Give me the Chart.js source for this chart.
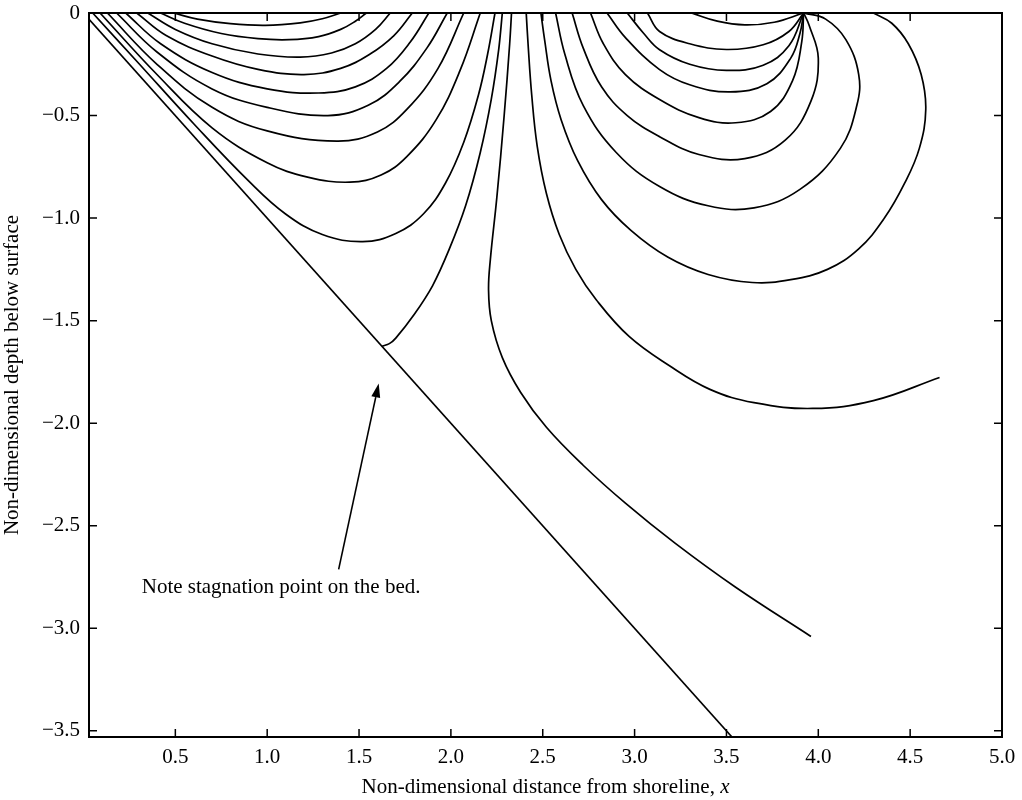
<!DOCTYPE html>
<html>
<head>
<meta charset="utf-8">
<script src="https://cdn.jsdelivr.net/npm/chart.js@4.4.0/dist/chart.umd.min.js"></script>
<style>
  html, body { margin: 0; background: #fff; }
  #wrap { width: 1022px; height: 800px; }
</style>
</head>
<body>
<div id="wrap"><canvas id="flow" width="1022" height="800"></canvas></div>
<script>
// tick values of the axes
const xTickValues = [0.5, 1.0, 1.5, 2.0, 2.5, 3.0, 3.5, 4.0, 4.5, 5.0];
const yTickValues = [0, -0.5, -1.0, -1.5, -2.0, -2.5, -3.0, -3.5];

// sloping bed
const bedLine = [[0, 0], [3.53, -3.53]];

// streamlines leaving the surface near the shore and returning near x ~ 1.4-2.25
const shoreLoops = [
  [[0.49, 0], [0.62, -0.03], [0.8, -0.052], [0.99, -0.06], [1.18, -0.048], [1.30, -0.028], [1.40, 0]],
  [[0.42, 0], [0.55, -0.05], [0.75, -0.1], [0.95, -0.125], [1.12, -0.13], [1.28, -0.115], [1.40, -0.08], [1.48, -0.04], [1.54, 0]],
  [[0.35, 0], [0.5, -0.08], [0.7, -0.15], [0.95, -0.2], [1.18, -0.215], [1.35, -0.195], [1.48, -0.15], [1.59, -0.08], [1.67, 0]],
  [[0.29, 0], [0.45, -0.11], [0.7, -0.21], [0.95, -0.275], [1.2, -0.3], [1.4, -0.27], [1.56, -0.2], [1.69, -0.11], [1.79, 0]],
  [[0.23, 0], [0.42, -0.15], [0.7, -0.29], [1.0, -0.37], [1.28, -0.39], [1.48, -0.36], [1.65, -0.27], [1.78, -0.14], [1.88, 0]],
  [[0.18, 0], [0.4, -0.19], [0.7, -0.37], [1.0, -0.46], [1.33, -0.5], [1.55, -0.45], [1.72, -0.335], [1.87, -0.17], [1.98, 0]],
  [[0.13, 0], [0.4, -0.25], [0.7, -0.46], [1.0, -0.575], [1.38, -0.625], [1.6, -0.58], [1.76, -0.47], [1.93, -0.27], [2.07, 0]],
  [[0.09, 0], [0.4, -0.3], [0.7, -0.56], [1.0, -0.73], [1.22, -0.8], [1.45, -0.825], [1.62, -0.79], [1.76, -0.7], [1.92, -0.52], [2.05, -0.28], [2.16, 0]],
  [[0.05, 0], [0.3, -0.245], [0.6, -0.54], [0.9, -0.82], [1.1, -0.98], [1.3, -1.08], [1.52, -1.115], [1.7, -1.075], [1.85, -0.98], [1.97, -0.83], [2.07, -0.63], [2.15, -0.4], [2.2, -0.2], [2.24, 0]],
];

// streamline leaving the bed at the stagnation point
const stagnationLine = [[1.625, -1.625], [1.665, -1.612], [1.7, -1.585], [1.8, -1.47], [1.9, -1.33], [1.99, -1.154], [2.08, -0.94], [2.16, -0.68], [2.22, -0.42], [2.26, -0.18], [2.28, 0]];

// streamline running from the surface down to deep water
const dividingLine = [[2.33, 0], [2.32, -0.15], [2.29, -0.5], [2.25, -0.9], [2.215, -1.2], [2.205, -1.35], [2.22, -1.5], [2.28, -1.68], [2.38, -1.85], [2.52, -2.02], [2.72, -2.205], [2.95, -2.39], [3.22, -2.585], [3.55, -2.80], [3.96, -3.04]];

// streamlines closing on the surface singularity near x = 3.92
const offshoreLoops = [
  [[3.31, 0], [3.45, -0.04], [3.6, -0.058], [3.76, -0.045], [3.92, 0]],
  [[3.07, 0], [3.136, -0.09], [3.3, -0.15], [3.5, -0.178], [3.7, -0.155], [3.84, -0.09], [3.92, 0]],
  [[2.96, 0], [3.05, -0.1], [3.136, -0.179], [3.3, -0.25], [3.5, -0.28], [3.7, -0.255], [3.84, -0.16], [3.92, 0]],
  [[2.85, 0], [2.95, -0.12], [3.136, -0.276], [3.3, -0.35], [3.52, -0.385], [3.72, -0.345], [3.85, -0.22], [3.9, -0.1], [3.92, 0]],
  [[2.76, 0], [2.83, -0.15], [2.95, -0.3], [3.136, -0.422], [3.35, -0.51], [3.55, -0.535], [3.74, -0.48], [3.86, -0.33], [3.91, -0.14], [3.92, 0]],
  [[2.66, 0], [2.72, -0.17], [2.82, -0.36], [2.96, -0.5], [3.136, -0.603], [3.35, -0.69], [3.6, -0.71], [3.82, -0.62], [3.96, -0.43], [4.0, -0.22], [3.95, -0.06], [3.92, 0]],
  [[2.57, 0], [2.62, -0.2], [2.72, -0.45], [2.9, -0.68], [3.136, -0.846], [3.4, -0.94], [3.65, -0.95], [3.9, -0.86], [4.12, -0.66], [4.21, -0.45], [4.22, -0.3], [4.15, -0.13], [4.04, -0.03], [3.92, 0]],
  [[2.49, 0], [2.51, -0.13], [2.545, -0.33], [2.6, -0.52], [2.69, -0.72], [2.82, -0.91], [2.98, -1.06], [3.18, -1.19], [3.4, -1.275], [3.64, -1.314], [3.85, -1.3], [4.05, -1.25], [4.22, -1.15], [4.36, -1.0], [4.47, -0.83], [4.55, -0.66], [4.585, -0.47], [4.56, -0.3], [4.49, -0.15], [4.40, -0.05], [4.30, 0]],
  [[2.41, 0], [2.42, -0.15], [2.44, -0.4], [2.47, -0.65], [2.52, -0.88], [2.59, -1.08], [2.68, -1.25], [2.79, -1.397], [2.97, -1.577], [3.19, -1.72], [3.41, -1.835], [3.65, -1.9], [3.97, -1.928], [4.3, -1.89], [4.66, -1.777]],
];

// annotation
const noteText = 'Note stagnation point on the bed.';
const noteAt = [0.317, -2.80];
const arrowTail = [1.389, -2.713];
const arrowHead = [1.607, -1.806];

const xTitle = 'Non-dimensional distance from shoreline, ';
const xTitleVar = 'x';
const yTitle = 'Non-dimensional depth below surface';

const SERIF = '"Liberation Serif", "Times New Roman", serif';

function toPoints(arr) {
  return arr.map(([x, y]) => ({ x, y }));
}

function lineSet(arr, tension) {
  return {
    data: toPoints(arr),
    showLine: true,
    borderColor: '#000',
    borderWidth: 1.7,
    pointRadius: 0,
    tension: tension,
    fill: false,
  };
}

const datasets = [
  lineSet(bedLine, 0),
  ...shoreLoops.map((c) => lineSet(c, 0.4)),
  lineSet(stagnationLine, 0.3),
  lineSet(dividingLine, 0.4),
  ...offshoreLoops.map((c) => lineSet(c, 0.4)),
];

// box, inward ticks on all four sides, arrow, note and x title
const frameAndNotes = {
  id: 'frameAndNotes',
  afterDraw(chart) {
    const { ctx, chartArea: a, scales: { x, y } } = chart;
    ctx.save();
    ctx.strokeStyle = '#000';
    ctx.fillStyle = '#000';
    ctx.lineWidth = 2;
    ctx.strokeRect(a.left, a.top, a.right - a.left, a.bottom - a.top);

    const len = 8;
    ctx.lineWidth = 1.5;
    ctx.beginPath();
    xTickValues.forEach((v) => {
      const px = x.getPixelForValue(v);
      ctx.moveTo(px, a.bottom); ctx.lineTo(px, a.bottom - len);
      ctx.moveTo(px, a.top); ctx.lineTo(px, a.top + len);
    });
    yTickValues.forEach((v) => {
      const py = y.getPixelForValue(v);
      ctx.moveTo(a.left, py); ctx.lineTo(a.left + len, py);
      ctx.moveTo(a.right, py); ctx.lineTo(a.right - len, py);
    });
    ctx.stroke();

    // arrow to the stagnation point
    const tx = x.getPixelForValue(arrowTail[0]), ty = y.getPixelForValue(arrowTail[1]);
    const hx = x.getPixelForValue(arrowHead[0]), hy = y.getPixelForValue(arrowHead[1]);
    const ang = Math.atan2(hy - ty, hx - tx);
    const headLen = 14, headHalf = 4.5;
    const bx = hx - headLen * Math.cos(ang), by = hy - headLen * Math.sin(ang);
    ctx.lineWidth = 1.6;
    ctx.beginPath();
    ctx.moveTo(tx, ty); ctx.lineTo(bx, by);
    ctx.stroke();
    ctx.beginPath();
    ctx.moveTo(hx, hy);
    ctx.lineTo(bx + headHalf * Math.sin(ang), by - headHalf * Math.cos(ang));
    ctx.lineTo(bx - headHalf * Math.sin(ang), by + headHalf * Math.cos(ang));
    ctx.closePath();
    ctx.fill();

    // note text
    ctx.font = '21px ' + SERIF;
    ctx.textBaseline = 'middle';
    ctx.textAlign = 'left';
    ctx.fillText(noteText, x.getPixelForValue(noteAt[0]), y.getPixelForValue(noteAt[1]));

    // x title with italic variable
    ctx.font = '21px ' + SERIF;
    const w1 = ctx.measureText(xTitle).width;
    ctx.font = 'italic 21px ' + SERIF;
    const w2 = ctx.measureText(xTitleVar).width;
    const cx = (a.left + a.right) / 2;
    const startX = cx - (w1 + w2) / 2;
    const tyTitle = a.bottom + 50;
    ctx.font = '21px ' + SERIF;
    ctx.fillText(xTitle, startX, tyTitle);
    ctx.font = 'italic 21px ' + SERIF;
    ctx.fillText(xTitleVar, startX + w1, tyTitle);
    ctx.restore();
  },
};

new Chart(document.getElementById('flow'), {
  type: 'scatter',
  data: { datasets },
  options: {
    responsive: false,
    animation: false,
    events: [],
    layout: { padding: { top: 13, right: 20, left: 0, bottom: 0 } },
    plugins: { legend: { display: false }, tooltip: { enabled: false } },
    scales: {
      x: {
        type: 'linear',
        min: 0.03,
        max: 5.0,
        afterBuildTicks: (s) => { s.ticks = xTickValues.map((v) => ({ value: v })); },
        afterFit: (s) => { s.height = 63; s.paddingLeft = 0; s.paddingRight = 0; },
        grid: { display: false, drawTicks: false },
        border: { display: false },
        ticks: {
          color: '#000',
          padding: 8,
          maxRotation: 0,
          autoSkip: false,
          font: { family: SERIF, size: 21 },
          callback: (v) => Number(v).toFixed(1),
        },
      },
      y: {
        type: 'linear',
        min: -3.53,
        max: 0,
        afterBuildTicks: (s) => { s.ticks = yTickValues.map((v) => ({ value: v })); },
        afterFit: (s) => { s.width = 89; s.paddingTop = 0; s.paddingBottom = 0; },
        grid: { display: false, drawTicks: false },
        border: { display: false },
        title: {
          display: true,
          text: yTitle,
          color: '#000',
          padding: { top: 0, bottom: 0 },
          font: { family: SERIF, size: 21 },
        },
        ticks: {
          color: '#000',
          padding: 9,
          autoSkip: false,
          font: { family: SERIF, size: 21 },
          callback: (v) => (v === 0 ? '0' : '\u2212' + Math.abs(v).toFixed(1)),
        },
      },
    },
  },
  plugins: [frameAndNotes],
});
</script>
</body>
</html>
